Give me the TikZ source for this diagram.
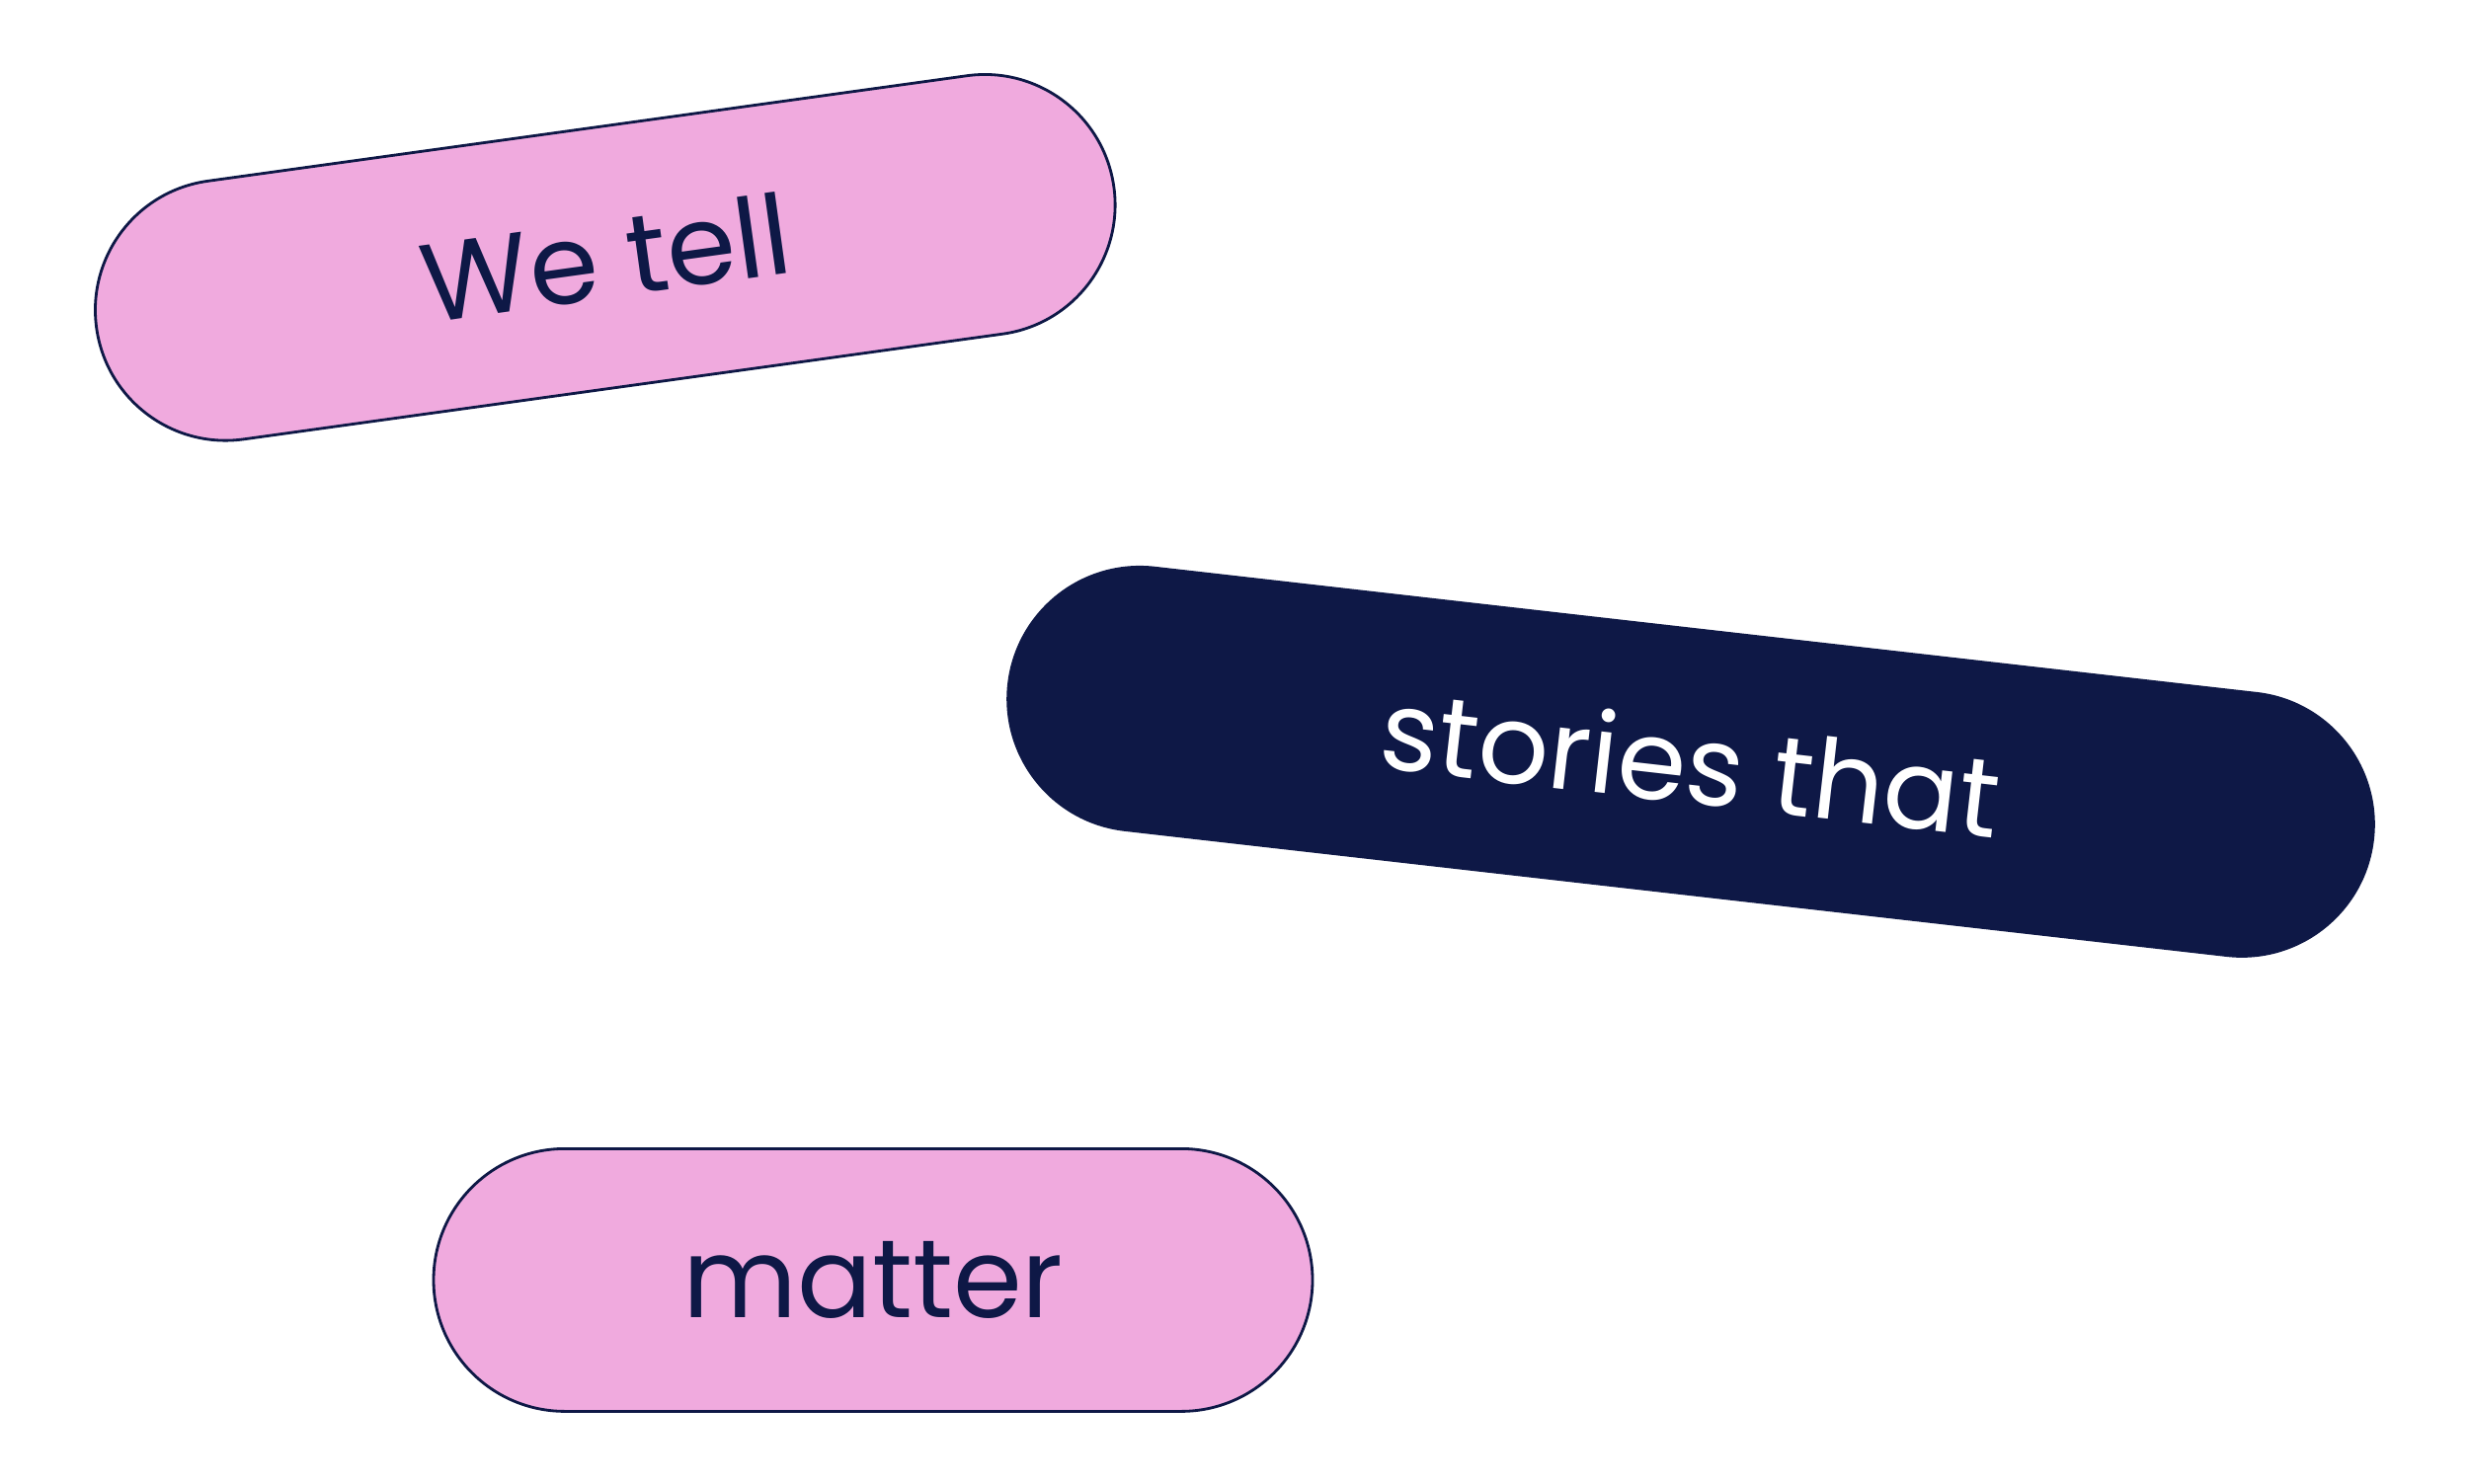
\documentclass[tikz,border=0pt]{standalone}
\usepackage{fontspec}
\setmainfont{Poppins}
\usetikzlibrary{shapes.misc}
\definecolor{pinkc}{HTML}{F0AADE}
\definecolor{navy}{HTML}{0E1846}
\tikzset{pill/.style={rounded rectangle, draw=navy, line width=0.8pt, inner sep=0pt, font=\fontsize{32}{38}\selectfont}}
\begin{document}
\begin{tikzpicture}
\useasboundingbox (0,0) rectangle (25,15.024);
\node[pill, fill=pinkc, text=navy, minimum width=10.4cm, minimum height=2.64cm, rotate=7.9] (a) at (6.128,12.416) {We tell};
\node[pill, fill=navy, text=white, minimum width=13.9cm, minimum height=2.67cm, rotate=-6.5] (b) at (17.12,7.31) {stories that};
\node[pill, fill=pinkc, text=navy, minimum width=8.9cm, minimum height=2.66cm] (c) at (8.84,2.06) {matter};
\end{tikzpicture}
\end{document}
